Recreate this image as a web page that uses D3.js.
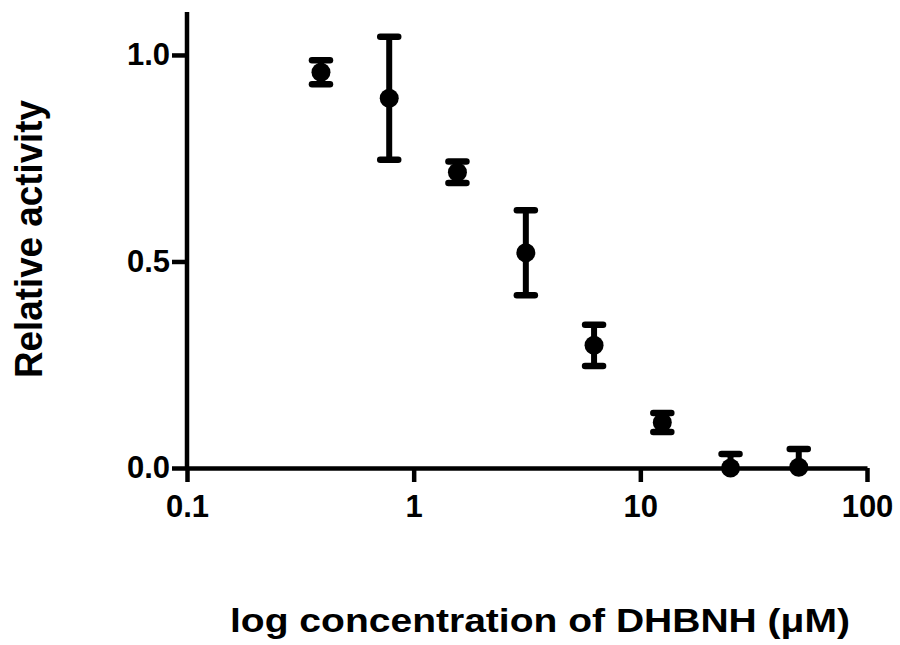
<!DOCTYPE html>
<html>
<head>
<meta charset="utf-8">
<script src="https://cdn.jsdelivr.net/npm/d3@7"></script>
<style>
  body { margin: 0; background: #fff; }
  text { font-family: "Liberation Sans", Arial, sans-serif; font-weight: bold; fill: #000; }
</style>
</head>
<body>
<svg id="chart" width="900" height="645"></svg>
<script>
// concentrations (uM), two-fold dilutions
var conc = [0.39, 0.78, 1.56, 3.125, 6.25, 12.5, 25, 50];
var activity = [0.958, 0.895, 0.716, 0.521, 0.297, 0.110, 0.0, 0.002];
var errs = [0.029, 0.149, 0.026, 0.103, 0.050, 0.023, 0.034, 0.044];

var xTicks = [0.1, 1, 10, 100];
var xTickLabels = ["0.1", "1", "10", "100"];
var yTicks = [0, 0.5, 1.0];

var svg = d3.select("#chart");

var x = d3.scaleLog()
    .domain([0.1, 100])
    .range([187, 867]);

var y = d3.scaleLinear()
    .domain([0, 1.104])
    .range([468, 12]);

// y axis
var yAxis = svg.append("g")
    .attr("transform", "translate(187,0)")
    .call(d3.axisLeft(y)
        .tickValues(yTicks)
        .tickFormat(d3.format(".1f"))
        .tickSize(15)
        .tickSizeOuter(0)
        .tickPadding(2));

// x axis
var xAxis = svg.append("g")
    .attr("transform", "translate(0,468)")
    .call(d3.axisBottom(x)
        .tickValues(xTicks)
        .tickFormat(function(d, i) { return xTickLabels[i]; })
        .tickSize(14)
        .tickSizeOuter(0)
        .tickPadding(13));

svg.selectAll(".domain, .tick line")
    .attr("stroke", "#000")
    .attr("stroke-width", 4.5);

// y axis line runs down to meet the x axis
yAxis.select(".domain").attr("d", "M0,12V470");

svg.selectAll(".tick text")
    .attr("font-size", "31px")
    .attr("font-family", "'Liberation Sans', Arial, sans-serif")
    .attr("font-weight", "bold")
    .attr("fill", "#000");

// error bars, clipped to the plot area above the x axis
svg.append("clipPath")
    .attr("id", "plotclip")
  .append("rect")
    .attr("x", 150)
    .attr("y", 0)
    .attr("width", 750)
    .attr("height", 466);

var data = conc.map(function(c, i) { return { c: c, v: activity[i], e: errs[i] }; });

var bars = svg.append("g")
    .attr("clip-path", "url(#plotclip)")
    .selectAll("g")
    .data(data)
    .enter()
    .append("g");

bars.append("line")
    .attr("x1", function(d) { return x(d.c); })
    .attr("x2", function(d) { return x(d.c); })
    .attr("y1", function(d) { return y(d.v + d.e); })
    .attr("y2", function(d) { return y(d.v - d.e); })
    .attr("stroke", "#000")
    .attr("stroke-width", 6);

[1, -1].forEach(function(s) {
    bars.append("line")
        .attr("x1", function(d) { return x(d.c) - 9; })
        .attr("x2", function(d) { return x(d.c) + 9; })
        .attr("y1", function(d) { return y(d.v + s * d.e); })
        .attr("y2", function(d) { return y(d.v + s * d.e); })
        .attr("stroke", "#000")
        .attr("stroke-width", 6.5)
        .attr("stroke-linecap", "round");
});

// markers
svg.append("g")
    .selectAll("circle")
    .data(data)
    .enter()
    .append("circle")
        .attr("cx", function(d) { return x(d.c); })
        .attr("cy", function(d) { return y(d.v); })
        .attr("r", 9.5)
        .attr("fill", "#000");

// axis titles
svg.append("text")
    .attr("transform", "translate(42,239) rotate(-90)")
    .attr("text-anchor", "middle")
    .attr("font-size", "39px")
    .attr("textLength", 278)
    .attr("lengthAdjust", "spacingAndGlyphs")
    .text("Relative activity");

svg.append("text")
    .attr("x", 540)
    .attr("y", 632)
    .attr("text-anchor", "middle")
    .attr("font-size", "34px")
    .attr("textLength", 620)
    .attr("lengthAdjust", "spacingAndGlyphs")
    .text("log concentration of DHBNH (\u03bcM)");
</script>
</body>
</html>
